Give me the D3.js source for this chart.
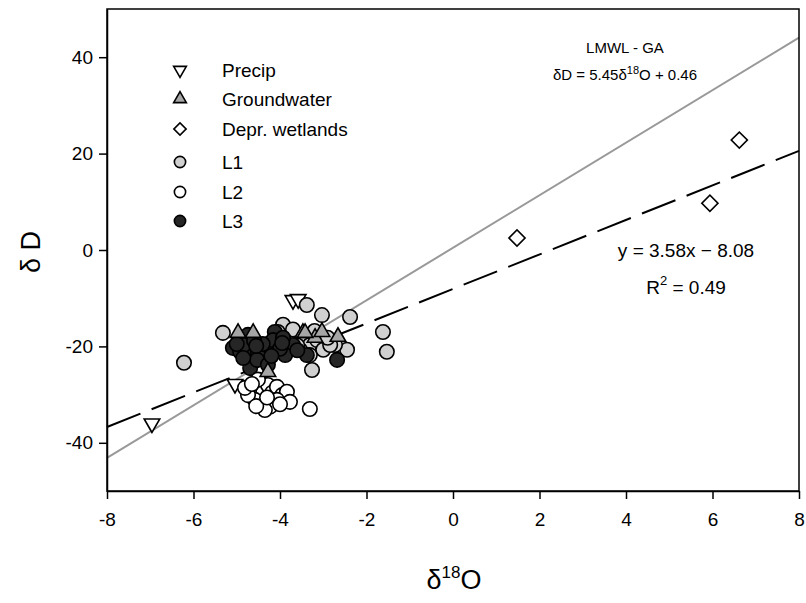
<!DOCTYPE html>
<html>
<head>
<meta charset="utf-8">
<script src="https://cdn.jsdelivr.net/npm/d3@7"></script>
<style>
  body { margin: 0; background: #fff; }
  svg { font-family: "Liberation Sans", Arial, sans-serif; }
</style>
</head>
<body>
<svg id="chart" width="806" height="603"></svg>
<script>
// data: [d18O, dD]
const precip = [[-6.96, -36.0], [-5.04, -27.8], [-3.70, -10.4], [-3.58, -10.2]];
const groundwater = [[-4.97, -17.2], [-4.62, -17.2], [-4.28, -25.3], [-3.47, -17.2],
  [-3.19, -18.2], [-3.03, -17.0], [-2.66, -18.0], [-3.42, -17.2]];
const wetlands = [[1.48, 2.5], [5.94, 9.7], [6.62, 22.8]];
const L1 = [[-6.22, -23.4], [-5.32, -17.2], [-3.38, -11.4], [-3.03, -13.5], [-2.38, -13.9],
  [-1.62, -17.0], [-1.53, -21.1], [-2.45, -20.7], [-3.26, -24.9], [-3.93, -15.5],
  [-3.84, -18.2], [-3.61, -17.6], [-3.49, -18.7], [-3.31, -19.7], [-3.14, -18.7],
  [-2.73, -19.7], [-3.31, -21.8], [-3.54, -20.7], [-3.0, -20.7], [-2.84, -19.7],
  [-3.7, -16.5], [-3.2, -16.8], [-2.9, -18.2], [-3.6, -19.8], [-4.05, -17.0]];
const L2 = [[-4.62, -29.4], [-4.42, -27.6], [-4.39, -29.6], [-4.28, -28.0], [-4.18, -29.6],
  [-4.07, -28.4], [-3.95, -30.1], [-3.84, -29.4], [-3.77, -31.5], [-4.07, -31.1],
  [-4.23, -32.5], [-4.42, -31.5], [-4.58, -31.1], [-4.74, -30.1], [-3.31, -33.0],
  [-4.35, -33.2], [-4.51, -26.9], [-4.81, -28.6], [-4.55, -32.4], [-4.0, -32.0],
  [-4.3, -30.6], [-4.65, -27.8]];
const L3 = [[-4.74, -17.6], [-5.09, -20.3], [-4.92, -21.1], [-4.69, -20.3], [-4.51, -21.1],
  [-4.35, -22.8], [-4.23, -19.3], [-4.12, -17.0], [-4.12, -21.1], [-4.62, -23.2],
  [-4.46, -20.7], [-4.30, -19.7], [-4.16, -18.7], [-4.69, -24.5], [-4.53, -22.8],
  [-3.84, -20.3], [-3.70, -19.7], [-3.38, -21.8], [-2.68, -22.8], [-4.83, -19.7],
  [-3.93, -18.2], [-3.88, -21.8], [-4.28, -23.8], [-4.4, -19.5], [-4.0, -20.5],
  [-4.6, -18.8], [-3.6, -20.8], [-3.95, -19.3], [-4.2, -22.0], [-5.0, -19.5],
  [-4.85, -22.4], [-4.55, -19.9]];

const lmwl = { slope: 5.45, intercept: 0.46 };
const fit = { slope: 3.58, intercept: -8.08 };
const xTicks = [-8, -6, -4, -2, 0, 2, 4, 6, 8];
const yTicks = [-40, -20, 0, 20, 40];

const svg = d3.select("#chart");
const x = d3.scaleLinear().domain([-8, 8]).range([107, 799]);
const y = d3.scaleLinear().domain([-50, 50]).range([491, 9]);

// lines
const lineGen = d3.line().x(d => x(d[0])).y(d => y(d[1]));
const ends = [-8, 8];
svg.append("path")
  .attr("d", lineGen(ends.map(v => [v, lmwl.slope * v + lmwl.intercept])))
  .attr("stroke", "#999").attr("stroke-width", 2).attr("fill", "none");
svg.append("path")
  .attr("d", lineGen(ends.map(v => [v, fit.slope * v + fit.intercept])))
  .attr("stroke", "#000").attr("stroke-width", 2).attr("fill", "none")
  .attr("stroke-dasharray", "36,12");

// points
const circleSym = d3.symbol().type(d3.symbolCircle).size(165);
const triSym = d3.symbol().type(d3.symbolTriangle).size(105);
const diaSym = d3.symbol().type(d3.symbolSquare).size(130);

function drawSeries(data, sym, fill, rot) {
  svg.append("g").selectAll("path")
    .data(data)
    .join("path")
    .attr("d", sym)
    .attr("transform", d => `translate(${x(d[0])},${y(d[1])}) rotate(${rot})`)
    .attr("fill", fill)
    .attr("stroke", "#000")
    .attr("stroke-width", 1.6);
}
drawSeries(precip, triSym, "#fff", 180);
drawSeries(L1, circleSym, "#d0d0d0", 0);
drawSeries(L3, circleSym, "#262626", 0);
drawSeries(L2, circleSym, "#fff", 0);
drawSeries(groundwater, triSym, "#a6a6a6", 0);
drawSeries(wetlands, diaSym, "#fff", 45);

// frame + axes
svg.append("rect").attr("x", 107).attr("y", 9).attr("width", 692).attr("height", 482)
  .attr("fill", "none").attr("stroke", "#000").attr("stroke-width", 1.5);

const xAxis = svg.append("g").attr("transform", "translate(0,491)")
  .call(d3.axisBottom(x).tickValues(xTicks).tickFormat(d => String(d))
    .tickSize(8).tickSizeOuter(0).tickPadding(14));
const yAxis = svg.append("g").attr("transform", "translate(107,0)")
  .call(d3.axisLeft(y).tickValues(yTicks).tickFormat(d => String(d))
    .tickSize(8).tickSizeOuter(0).tickPadding(6));
[xAxis, yAxis].forEach(a => {
  a.select(".domain").attr("stroke-width", 1.5);
  a.selectAll(".tick line").attr("stroke-width", 1.5);
  a.selectAll(".tick text").attr("font-size", 19).attr("font-family", "Liberation Sans, Arial, sans-serif").attr("fill", "#000");
});

// axis titles
const xt = svg.append("text").attr("x", 454).attr("y", 589).attr("text-anchor", "middle")
  .attr("font-size", 27);
xt.append("tspan").text("δ");
xt.append("tspan").attr("font-size", 17).attr("dy", -11).text("18");
xt.append("tspan").attr("dy", 11).text("O");

svg.append("text").attr("transform", "translate(40,252) rotate(-90)")
  .attr("text-anchor", "middle").attr("font-size", 27).text("δ D");

// legend
const legendItems = [
  { label: "Precip", sym: d3.symbol().type(d3.symbolTriangle).size(70), fill: "#fff", rot: 180, y: 70 },
  { label: "Groundwater", sym: d3.symbol().type(d3.symbolTriangle).size(70), fill: "#a6a6a6", rot: 0, y: 99 },
  { label: "Depr. wetlands", sym: d3.symbol().type(d3.symbolSquare).size(75), fill: "#fff", rot: 45, y: 129 },
  { label: "L1", sym: d3.symbol().type(d3.symbolCircle).size(100), fill: "#d0d0d0", rot: 0, y: 162 },
  { label: "L2", sym: d3.symbol().type(d3.symbolCircle).size(100), fill: "#fff", rot: 0, y: 192 },
  { label: "L3", sym: d3.symbol().type(d3.symbolCircle).size(100), fill: "#262626", rot: 0, y: 221 }
];
const lg = svg.append("g").selectAll("g").data(legendItems).join("g");
lg.append("path")
  .attr("d", d => d.sym())
  .attr("transform", d => `translate(180,${d.y}) rotate(${d.rot})`)
  .attr("fill", d => d.fill).attr("stroke", "#000").attr("stroke-width", 1.6);
lg.append("text").attr("x", 222).attr("y", d => d.y).attr("dy", "0.35em")
  .attr("font-size", 19).text(d => d.label);

// annotations
svg.append("text").attr("x", 625).attr("y", 53).attr("text-anchor", "middle")
  .attr("font-size", 15).text("LMWL - GA");
const eq = svg.append("text").attr("x", 625).attr("y", 80).attr("text-anchor", "middle")
  .attr("font-size", 15);
eq.append("tspan").text("δD = 5.45δ");
eq.append("tspan").attr("font-size", 11).attr("dy", -6).text("18");
eq.append("tspan").attr("dy", 6).text("O + 0.46");

svg.append("text").attr("x", 686).attr("y", 257).attr("text-anchor", "middle")
  .attr("font-size", 19).text("y = 3.58x \u2212 8.08");
const r2 = svg.append("text").attr("x", 686).attr("y", 294).attr("text-anchor", "middle")
  .attr("font-size", 19);
r2.append("tspan").text("R");
r2.append("tspan").attr("font-size", 13).attr("dy", -9).text("2");
r2.append("tspan").attr("dy", 9).text(" = 0.49");
</script>
</body>
</html>
